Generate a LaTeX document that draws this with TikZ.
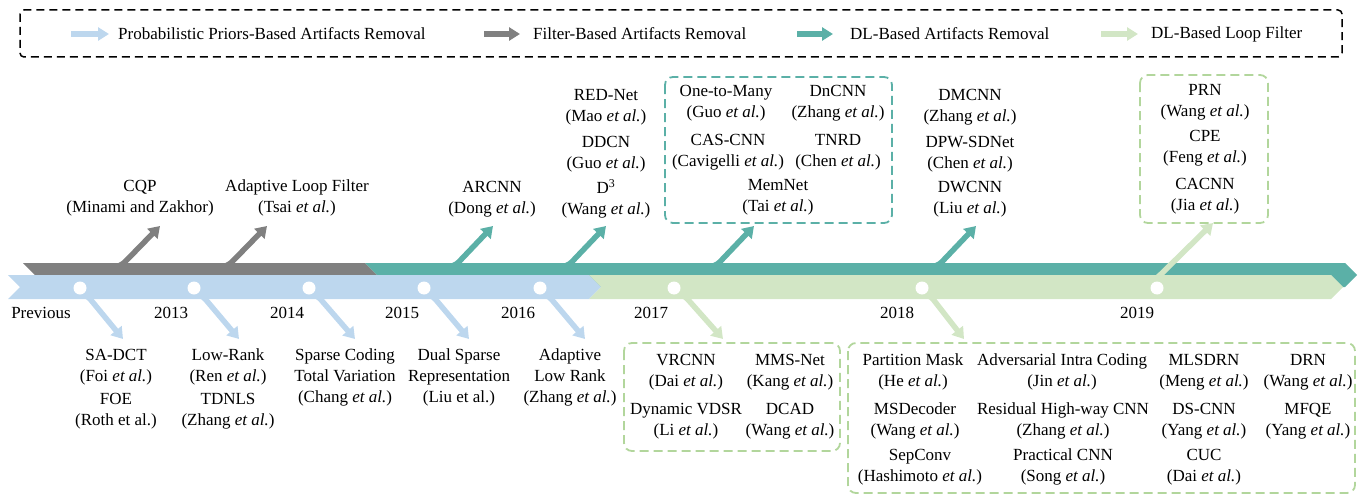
\documentclass[tikz,border=0pt]{standalone}
\usepackage{fontspec}
\setmainfont{Liberation Serif}
\usetikzlibrary{arrows.meta}
\definecolor{pblue}{RGB}{189,215,238}
\definecolor{fgray}{RGB}{128,128,128}
\definecolor{dlteal}{RGB}{91,176,167}
\definecolor{lfgreen}{RGB}{210,230,197}
\definecolor{boxgreen}{RGB}{178,214,156}
\newcommand{\etal}{\textit{et al.}}
\begin{document}
\begin{tikzpicture}[x=1pt,y=-1pt,
  lbl/.style={align=center,font=\fontsize{17}{21}\selectfont,inner sep=0pt},
  legtext/.style={anchor=west,font=\fontsize{17}{21}\selectfont,inner sep=0pt},
  branch/.style={line width=5.5pt,rounded corners=7pt,-{Triangle[width=14pt,length=11pt]}},
  legarrow/.style={line width=6pt,-{Triangle[width=13pt,length=11pt]}},
  dbox/.style={dash pattern=on 9pt off 5pt,line width=1.8pt,rounded corners=8pt},
  yeardot/.style={circle,fill=white,inner sep=0pt,minimum size=13pt}]
\useasboundingbox (0,0) rectangle (1364,495);

% ---------- legend ----------
\draw[black,line width=1.5pt,dash pattern=on 8pt off 5pt,rounded corners=4pt] (20,10) rectangle (1342,57);
\coordinate (l1a) at (71,34);  \coordinate (l1b) at (109,34);
\coordinate (l2a) at (484,34); \coordinate (l2b) at (520,34);
\coordinate (l3a) at (797,34); \coordinate (l3b) at (833,34);
\coordinate (l4a) at (1101,34);\coordinate (l4b) at (1138,34);
\draw[legarrow,pblue] (l1a) -- (l1b);
\draw[legarrow,fgray] (l2a) -- (l2b);
\draw[legarrow,dlteal] (l3a) -- (l3b);
\draw[legarrow,lfgreen] (l4a) -- (l4b);
\node[legtext] (lt1) at (118,34) {Probabilistic Priors-Based Artifacts Removal};
\node[legtext] (lt2) at (533,34) {Filter-Based Artifacts Removal};
\node[legtext] (lt3) at (850,34) {DL-Based Artifacts Removal};
\node[legtext] (lt4) at (1151,34) {DL-Based Loop Filter};

% ---------- upper band ----------
\fill[fgray] (23,263) -- (365,263) -- (377,275) -- (365,287) -- (23,287) -- (35,275) -- cycle;
\fill[dlteal] (365,263) -- (1345,263) -- (1357,275) -- (1345,287) -- (365,287) -- (377,275) -- cycle;

% up branch tips
\coordinate (tCQP) at (160,226);
\coordinate (tALF) at (267,226);
\coordinate (tARC) at (493,226);
\coordinate (tD3) at (606,226);
\coordinate (tMem) at (754,226);
\coordinate (tDW) at (976,226);
\coordinate (tPRN) at (1213,223);

\draw[branch,fgray] (100,267) -- (120,267) -- (tCQP);
\draw[branch,fgray] (207,267) -- (227,267) -- (tALF);
\draw[branch,dlteal] (433,267) -- (454,267) -- (tARC);
\draw[branch,dlteal] (546,267) -- (567,267) -- (tD3);
\draw[branch,dlteal] (694,267) -- (715,267) -- (tMem);
\draw[branch,dlteal] (916,267) -- (937,267) -- (tDW);

% ---------- lower band ----------
\fill[pblue] (8,275) -- (589,275) -- (601,287) -- (589,299) -- (8,299) -- (20,287) -- cycle;
\fill[lfgreen] (589,275) -- (1331,275) -- (1343,287) -- (1331,299) -- (589,299) -- (601,287) -- cycle;

\draw[branch,lfgreen] (1138,281) -- (1154,281) -- (tPRN);

% down branches
\coordinate (dPrev) at (123,339);
\coordinate (d13) at (239,339);
\coordinate (d14) at (355,339);
\coordinate (d15) at (469,339);
\coordinate (d16) at (585,339);
\coordinate (d17) at (723,339);
\coordinate (d18) at (964,339);

\draw[branch,pblue] (79,294) -- (86,294) -- (dPrev);
\draw[branch,pblue] (194,294) -- (201,294) -- (d13);
\draw[branch,pblue] (309,294) -- (316,294) -- (d14);
\draw[branch,pblue] (424,294) -- (431,294) -- (d15);
\draw[branch,pblue] (540,294) -- (547,294) -- (d16);
\draw[branch,lfgreen] (674,294) -- (683,294) -- (d17);
\draw[branch,lfgreen] (922,294) -- (929,294) -- (d18);

% dots
\node[yeardot] (cPrev) at (80,288) {};
\node[yeardot] (c13) at (194,288) {};
\node[yeardot] (c14) at (309,288) {};
\node[yeardot] (c15) at (424,288) {};
\node[yeardot] (c16) at (540,288) {};
\node[yeardot] (c17) at (674,288) {};
\node[yeardot] (c18) at (922,288) {};
\node[yeardot] (c19) at (1157,288) {};

% years
\node[lbl] (yPrev) at (41,313) {Previous};
\node[lbl] (y13) at (171,313) {2013};
\node[lbl] (y14) at (287,313) {2014};
\node[lbl] (y15) at (402,313) {2015};
\node[lbl] (y16) at (518,313) {2016};
\node[lbl] (y17) at (651,313) {2017};
\node[lbl] (y18) at (897,313) {2018};
\node[lbl] (y19) at (1137,313) {2019};

% ---------- top labels ----------
\node[lbl] (cqp) at (140,198) {CQP\\(Minami and Zakhor)};
\node[lbl] (alf) at (297,198) {Adaptive Loop Filter\\(Tsai \etal)};
\node[lbl] (arcnn) at (492,199) {ARCNN\\(Dong \etal)};
\node[lbl] (rednet) at (606,107.5) {RED-Net\\(Mao \etal)};
\node[lbl] (ddcn) at (606,154) {DDCN\\(Guo \etal)};
\node[lbl] (d3) at (606,199) {D\textsuperscript{3}\\(Wang \etal)};

\draw[dbox,dlteal] (665,77) rectangle (892,223);
\node[lbl] (otm) at (726,103) {One-to-Many\\(Guo \etal)};
\node[lbl] (dncnn) at (838,103) {DnCNN\\(Zhang \etal)};
\node[lbl] (cascnn) at (728,152.5) {CAS-CNN\\(Cavigelli \etal)};
\node[lbl] (tnrd) at (838,152.5) {TNRD\\(Chen \etal)};
\node[lbl] (memnet) at (778,197) {MemNet\\(Tai \etal)};

\node[lbl] (dmcnn) at (970,107.5) {DMCNN\\(Zhang \etal)};
\node[lbl] (dpw) at (970,154) {DPW-SDNet\\(Chen \etal)};
\node[lbl] (dwcnn) at (970,199) {DWCNN\\(Liu \etal)};

\draw[dbox,boxgreen] (1140,75) rectangle (1268,223);
\node[lbl] (prn) at (1205,102) {PRN\\(Wang \etal)};
\node[lbl] (cpe) at (1205,148) {CPE\\(Feng \etal)};
\node[lbl] (cacnn) at (1205,196.5) {CACNN\\(Jia \etal)};

% ---------- bottom labels ----------
\node[lbl] (sadct) at (116,367) {SA-DCT\\(Foi \etal)};
\node[lbl] (foe) at (116,411.5) {FOE\\(Roth et al.)};
\node[lbl] (lowrank) at (228,367) {Low-Rank\\(Ren \etal)};
\node[lbl] (tdnls) at (228,411.5) {TDNLS\\(Zhang \etal)};
\node[lbl] (sparse) at (345,377) {Sparse Coding\\Total Variation\\(Chang \etal)};
\node[lbl] (dual) at (459,377) {Dual Sparse\\Representation\\(Liu et al.)};
\node[lbl] (alr) at (570,377) {Adaptive\\Low Rank\\(Zhang \etal)};

\draw[dbox,boxgreen] (624,343) rectangle (840,451);
\node[lbl] (vrcnn) at (686,372) {VRCNN\\(Dai \etal)};
\node[lbl] (mms) at (790,372) {MMS-Net\\(Kang \etal)};
\node[lbl] (dvdsr) at (686,421.5) {Dynamic VDSR\\(Li \etal)};
\node[lbl] (dcad) at (790,421.5) {DCAD\\(Wang \etal)};

\draw[dbox,boxgreen] (848,343) rectangle (1355,493);
\node[lbl] (pm) at (913,372) {Partition Mask\\(He \etal)};
\node[lbl] (aic) at (1062,372) {Adversarial Intra Coding\\(Jin \etal)};
\node[lbl] (mlsdrn) at (1204,372) {MLSDRN\\(Meng \etal)};
\node[lbl] (drn) at (1308,372) {DRN\\(Wang \etal)};
\node[lbl] (msd) at (915,421) {MSDecoder\\(Wang \etal)};
\node[lbl] (rhc) at (1063,421) {Residual High-way CNN\\(Zhang \etal)};
\node[lbl] (dscnn) at (1204,421) {DS-CNN\\(Yang \etal)};
\node[lbl] (mfqe) at (1308,421) {MFQE\\(Yang \etal)};
\node[lbl] (sep) at (920,467) {SepConv\\(Hashimoto \etal)};
\node[lbl] (pcnn) at (1063,467) {Practical CNN\\(Song \etal)};
\node[lbl] (cuc) at (1204,467) {CUC\\(Dai \etal)};
\end{tikzpicture}
\end{document}
